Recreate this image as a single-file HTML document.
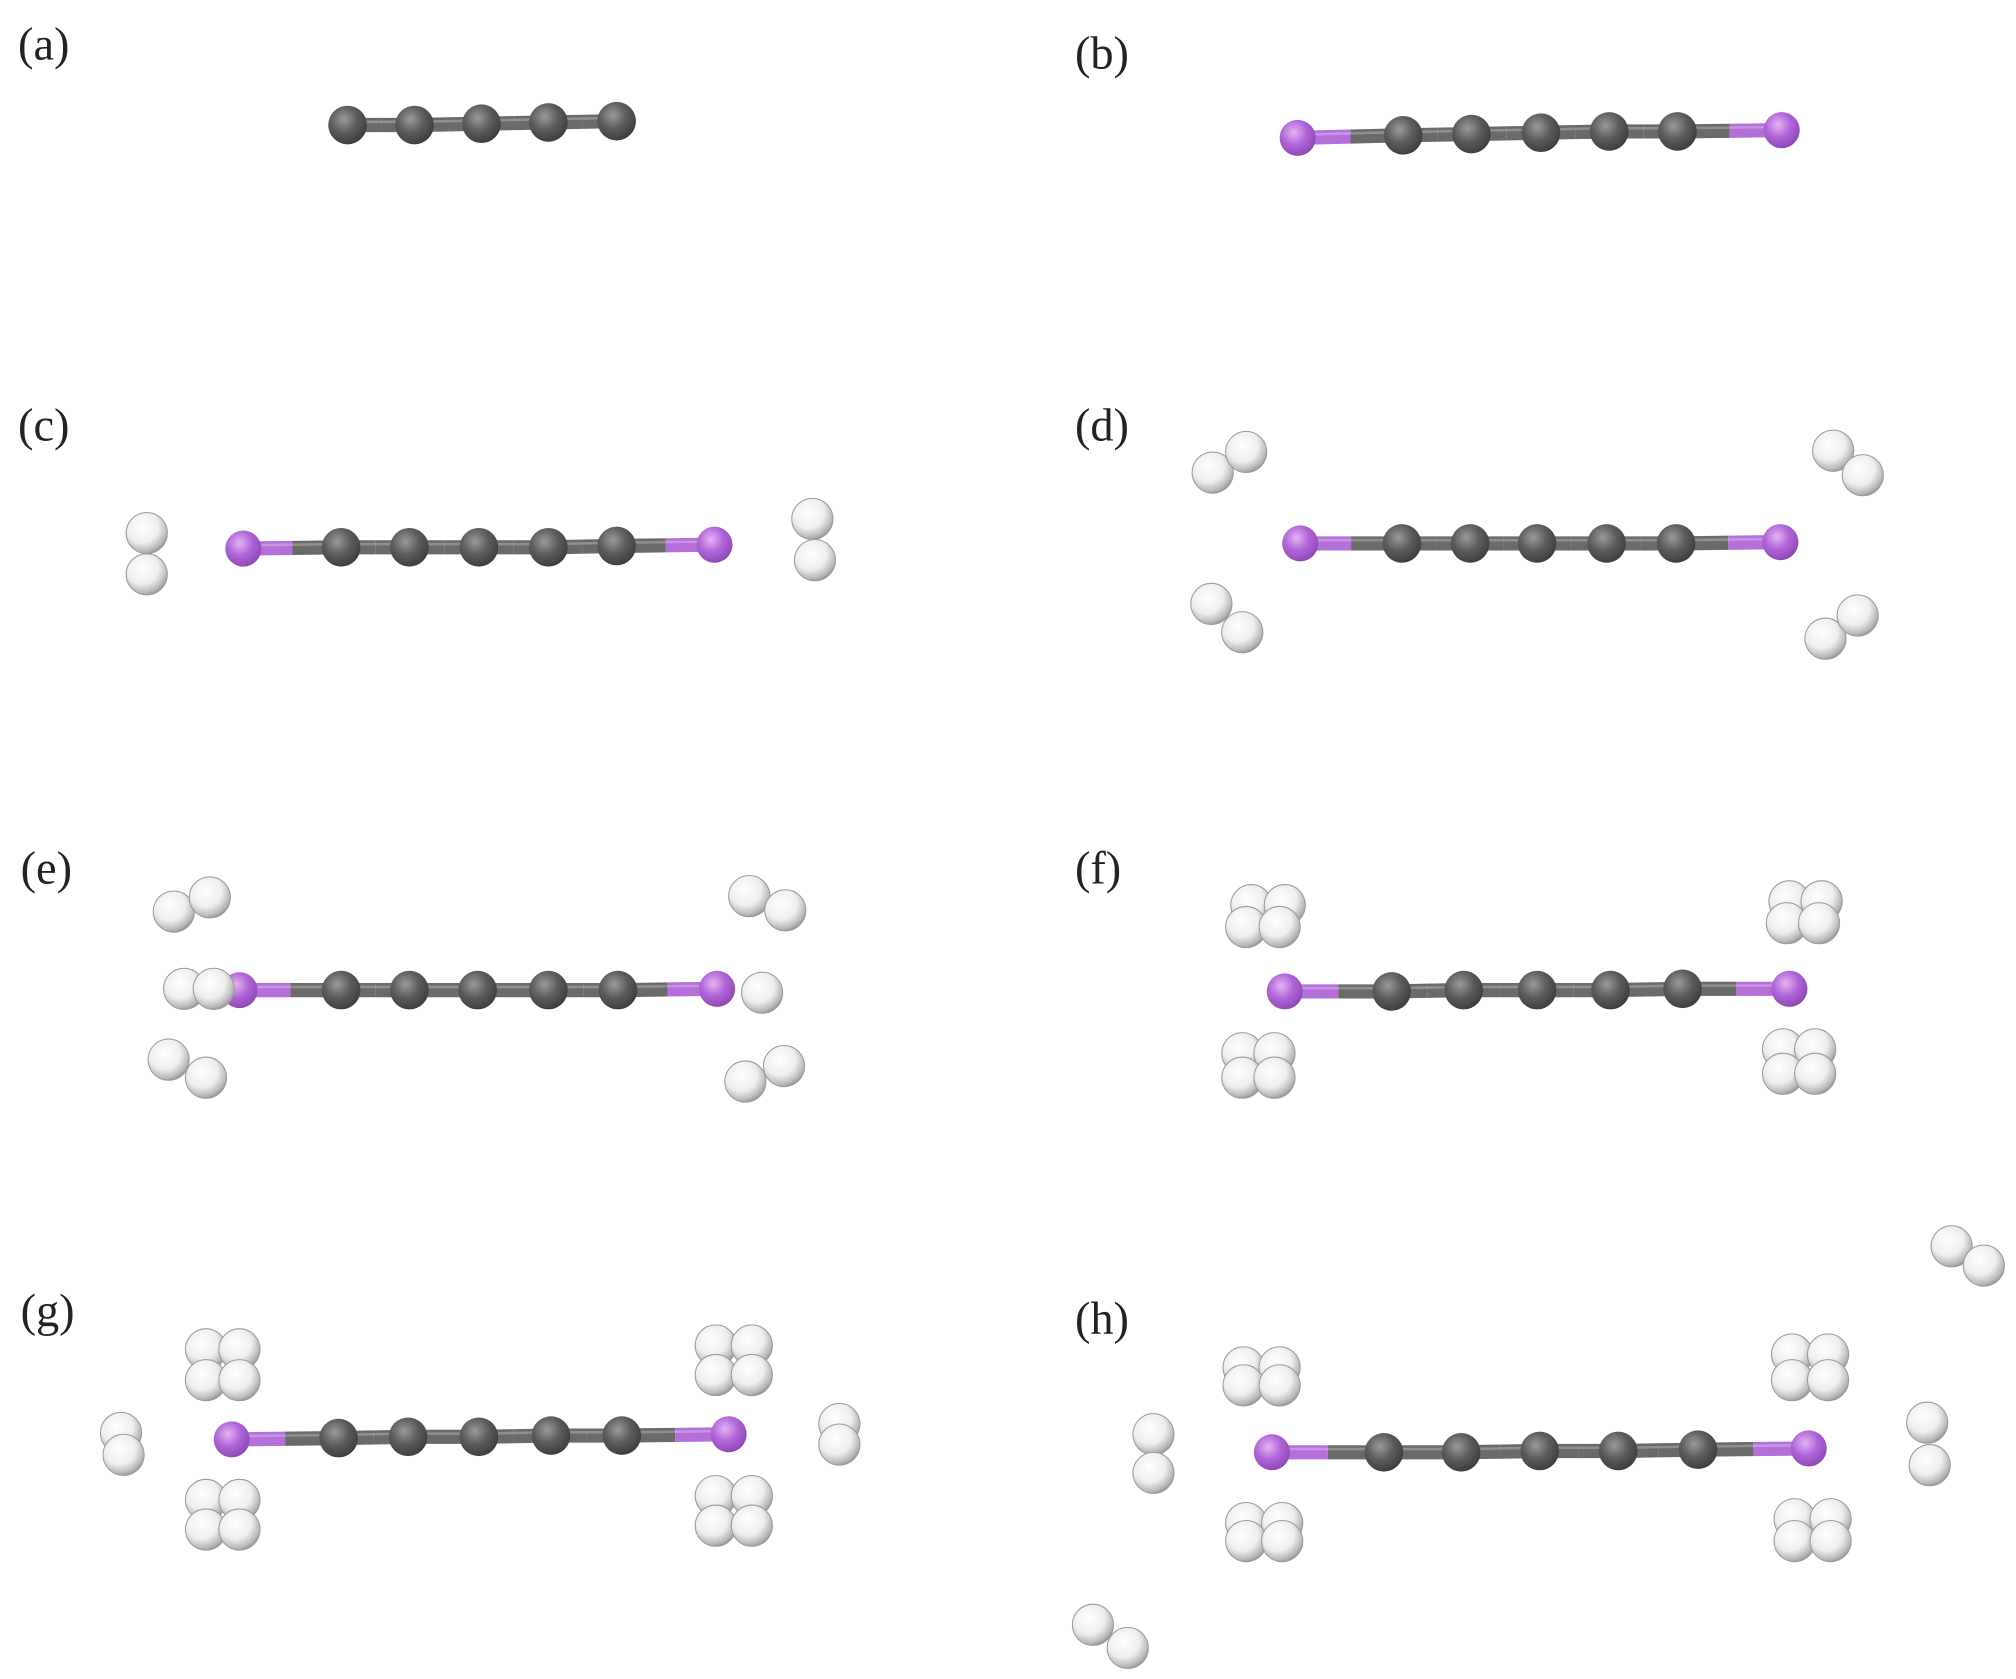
<!DOCTYPE html>
<html><head><meta charset="utf-8"><style>
html,body{margin:0;padding:0;background:#fff;}
svg{display:block;}
text{font-family:"Liberation Serif",serif;font-size:36px;fill:#222;}
</style></head><body>
<svg id="fig" width="2016" height="1679" viewBox="0 0 1566 1304" xmlns="http://www.w3.org/2000/svg">
<defs>
<radialGradient id="gC" cx="0.4" cy="0.35" r="0.7"><stop offset="0" stop-color="#9a9a9a"/><stop offset="0.5" stop-color="#5c5c5c"/><stop offset="1" stop-color="#3a3a3a"/></radialGradient>
<radialGradient id="gI" cx="0.4" cy="0.35" r="0.7"><stop offset="0" stop-color="#e4b4f4"/><stop offset="0.5" stop-color="#b065d8"/><stop offset="1" stop-color="#8a45b0"/></radialGradient>
<radialGradient id="gH" cx="0.4" cy="0.35" r="0.7"><stop offset="0" stop-color="#ffffff"/><stop offset="0.55" stop-color="#eeeeee"/><stop offset="0.85" stop-color="#b8b8b8"/><stop offset="1" stop-color="#8a8a8a"/></radialGradient>
</defs>
<g id="labels"></g>
<g id="mols"></g>
</svg>
<script>
// panel labels
const panelLabels = ["(a)","(b)","(c)","(d)","(e)","(f)","(g)","(h)"];
const labelX = [14,835,14,835,16,835,16,835];
const labelY = [46,53,342,342,686,686,1030,1036];
// chain atoms per panel: [x,y] (I at ends if present)
const chainA = [[270,97],[322,97],[374,96],[426,95],[479,94]];
const chainB = [[1008,107],[1090,105],[1143,104],[1197,103],[1250,102],[1303,102],[1384,101]];
const chainC = [[189,426],[265,425],[318,425],[372,425],[426,425],[479,424],[555,423]];
const chainD = [[1010,422],[1089,422],[1142,422],[1194,422],[1248,422],[1302,422],[1383,421]];
const chainE = [[186,769],[265,769],[318,769],[371,769],[426,769],[480,769],[557,768]];
const chainF = [[998,770],[1081,770],[1137,769],[1194,769],[1251,769],[1307,768],[1390,768]];
const chainG = [[180,1118],[263,1117],[317,1116],[372,1116],[428,1115],[483,1115],[566,1114]];
const chainH = [[988,1128],[1075,1128],[1135,1128],[1196,1127],[1257,1127],[1319,1126],[1405,1125]];
const chains = [[chainA,false],[chainB,true],[chainC,true],[chainD,true],[chainE,true],[chainF,true],[chainG,true],[chainH,true]];
// hydrogen atoms
const hydrogens = [
 [114,414],[114,446],[631,403],[633,435],
 [942,367],[968,351],[1424,350],[1447,369],[941,469],[965,491],[1418,496],[1443,478],
 [135,708],[163,697],[582,696],[610,707],[131,823],[160,837],[579,840],[609,828],[143,768],[166,768],[592,771],
 [972,703],[998,703],[968,720],[994,720],[1390,700],[1415,700],[1388,717],[1413,717],
 [965,818],[990,818],[965,837],[990,837],[1385,815],[1410,815],[1385,834],[1410,834],
 [160,1048],[186,1048],[160,1072],[186,1072],[556,1045],[584,1045],[556,1068],[584,1068],
 [160,1165],[186,1165],[160,1188],[186,1188],[556,1162],[584,1162],[556,1185],[584,1185],
 [94,1113],[96,1130],[652,1106],[652,1122],
 [966,1062],[994,1062],[966,1076],[994,1076],[1392,1052],[1420,1052],[1392,1072],[1420,1072],
 [968,1183],[996,1183],[968,1197],[996,1197],[1394,1180],[1422,1180],[1394,1197],[1422,1197],
 [896,1114],[896,1144],[1497,1105],[1499,1138],[1516,968],[1541,983],[849,1262],[876,1280]
];
const NS="http://www.w3.org/2000/svg";
const lg=document.getElementById('labels'), mg=document.getElementById('mols');
panelLabels.forEach((t,i)=>{
 const e=document.createElementNS(NS,'text');
 
 
 e.setAttribute('x',labelX[i]);e.setAttribute('y',labelY[i]);e.textContent=t;lg.appendChild(e);
});
function circ(x,y,r,fill){const c=document.createElementNS(NS,'circle');c.setAttribute('cx',x);c.setAttribute('cy',y);c.setAttribute('r',r);c.setAttribute('fill',fill);return c;}
function line(a,b,stroke,w){const l=document.createElementNS(NS,'line');l.setAttribute('x1',a[0]);l.setAttribute('y1',a[1]);l.setAttribute('x2',b[0]);l.setAttribute('y2',b[1]);l.setAttribute('stroke',stroke);l.setAttribute('stroke-width',w);return l;}
chains.forEach(([pts,hasI],ci)=>{
 const g=document.createElementNS(NS,'g');
 
 
 for(let i=0;i<pts.length-1;i++){
  const a=pts[i],b=pts[i+1];
  const m=[(a[0]+b[0])/2,(a[1]+b[1])/2];
  const aI=hasI&&i===0, bI=hasI&&i===pts.length-2;
  g.appendChild(line(a,m,aI?'#b46fd8':'#6a6a6a',11));
  g.appendChild(line(m,b,bI?'#b46fd8':'#6a6a6a',11));
  g.appendChild(line([a[0],a[1]-2.5],[b[0],b[1]-2.5],'rgba(255,255,255,0.25)',2));
 }
 pts.forEach((p,i)=>{
  const isI=hasI&&(i===0||i===pts.length-1);
  const c=circ(p[0],p[1],isI?14:15,isI?'url(#gI)':'url(#gC)');
  
  
  g.appendChild(c);
 });
 mg.appendChild(g);
});
hydrogens.forEach(p=>{
 const c=circ(p[0],p[1],16,'url(#gH)');
 c.setAttribute('stroke','#9a9a9a');
 c.setAttribute('stroke-width','0.8');
 
 
 mg.appendChild(c);
});
</script>
</body></html>
